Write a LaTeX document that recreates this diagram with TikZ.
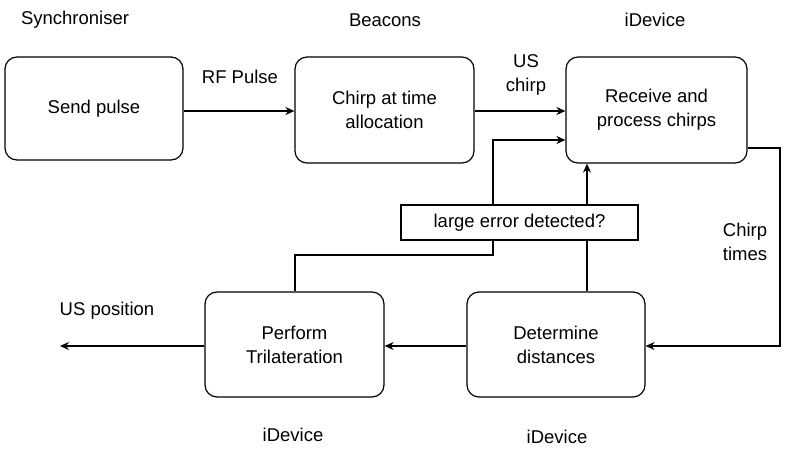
\documentclass[tikz,border=0pt]{standalone}
\usepackage{fontspec}
\setmainfont{Liberation Sans}
\usetikzlibrary{arrows.meta}
\begin{document}
\begin{tikzpicture}[x=1pt,y=-1pt,
  box/.style={draw,line width=1.2pt,rounded corners=12pt,align=center,inner sep=0pt},
  lbl/.style={align=center,inner sep=0pt},
  arr/.style={line width=1.2pt,-{Stealth[length=9pt,width=8pt]}},
  font=\fontsize{18.5}{24}\selectfont]
\useasboundingbox (0,0) rectangle (800,457);
\node[box,minimum width=178pt,minimum height=103pt] (send) at (94,108.5) {Send pulse};
\node[box,minimum width=179pt,minimum height=106pt] (chirp) at (384.5,110) {Chirp at time\\allocation};
\node[box,minimum width=181pt,minimum height=106pt] (recv) at (656.5,110) {Receive and\\process chirps};
\node[box,minimum width=179pt,minimum height=105pt] (tri) at (294.5,344.5) {Perform\\Trilateration};
\node[box,minimum width=178pt,minimum height=105pt] (det) at (556,344.5) {Determine\\distances};
\node[lbl] (l1) at (75,20) {Synchroniser};
\node[lbl] (l2) at (385,20) {Beacons};
\node[lbl] (l3) at (655,20) {iDevice};
\node[lbl] (l4) at (293,435) {iDevice};
\node[lbl] (l5) at (557,437) {iDevice};
\node[lbl] (rf) at (240,77) {RF Pulse};
\node[lbl] (us) at (526,75) {US\\chirp};
\node[lbl] (ct) at (745,242) {Chirp\\times};
\node[lbl] (up) at (107,311) {US position};
\coordinate (out) at (60,346);
\draw[arr] (send.east |- 0,111) -- (chirp.west |- 0,111);
\draw[arr] (chirp.east |- 0,111) -- (recv.west |- 0,111);
\draw[arr] (recv.east |- 0,148) -- (780,148) -- (780,346) -- (det.east |- 0,346);
\draw[arr] (det.west |- 0,346) -- (tri.east |- 0,346);
\draw[arr] (tri.west |- 0,346) -- (out);
\draw[arr] (det.north -| 587,0) -- (recv.south -| 587,0);
\draw[arr] (tri.north -| 295,0) -- (295,255) -- (493,255) -- (493,140) -- (recv.west |- 0,140);
\node[draw,fill=white,line width=1.2pt,minimum width=237pt,minimum height=35pt,inner sep=0pt] (err) at (519.5,222.5) {large error detected?};
\end{tikzpicture}
\end{document}
